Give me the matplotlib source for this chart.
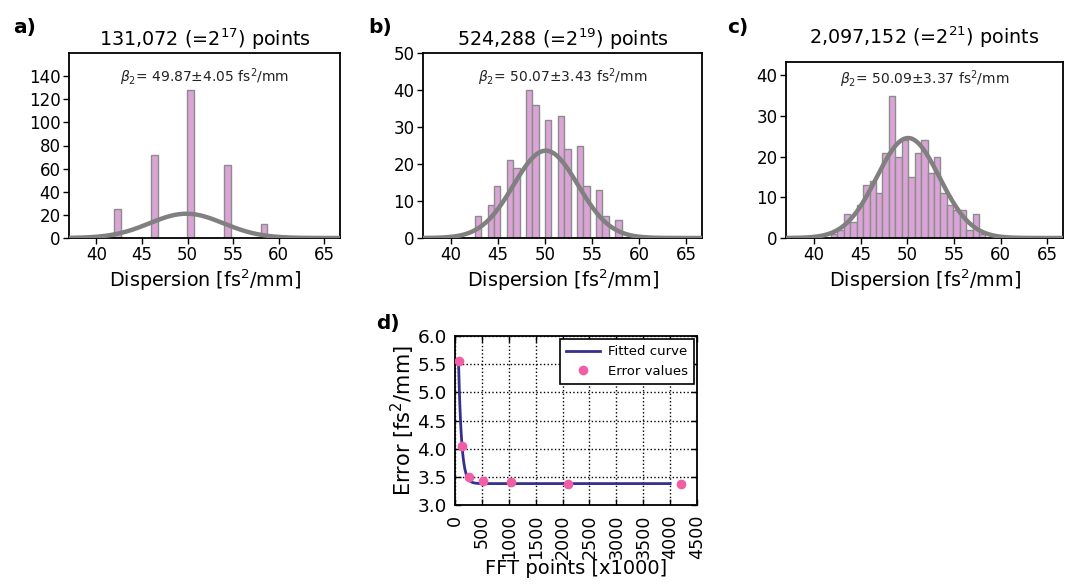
import numpy as np
import matplotlib
matplotlib.use("Agg")
import matplotlib.pyplot as plt

# ---------------- data ----------------
# panel a: 131,072 points
a_centers = [42.32, 46.35, 50.33, 54.39, 58.38]
a_counts = [25, 72, 128, 63, 12]
a_width = 0.74
a_mu, a_sigma, a_amp = 49.87, 4.05, 21.0

# panel b: 524,288 points
b_first_center = 42.86
b_bin_width = 0.679
b_counts = [6, 0, 9, 14, 0, 21, 19, 0, 40, 36, 0, 32, 0, 33, 24, 0, 25, 14, 0, 13, 6, 0, 5]
b_mu, b_sigma, b_amp = 50.07, 3.43, 23.6

# panel c: 2,097,152 points
c_first_center = 42.17
c_bin_width = 0.69
c_counts = [1, 2, 6, 4, 8, 13, 14, 11, 21, 35, 20, 24, 15, 21, 24, 16, 20, 11, 8, 7, 7, 2, 6, 1]
c_mu, c_sigma, c_amp = 50.09, 3.37, 24.6

# panel d: error vs FFT points
fft_points = [65.536, 131.072, 262.144, 524.288, 1048.576, 2097.152, 4194.304]
error_values = [5.55, 4.05, 3.50, 3.43, 3.40, 3.37, 3.38]
fit_A, fit_k, fit_C = 7.03, 0.01795, 3.38
fit_xmin, fit_xmax = 65.536, 4000

titles = ["131,072 (=2$^{17}$) points", "524,288 (=2$^{19}$) points",
          "2,097,152 (=2$^{21}$) points"]
notes = ["$\\beta_2$= 49.87$\\pm$4.05 fs$^2$/mm",
         "$\\beta_2$= 50.07$\\pm$3.43 fs$^2$/mm",
         "$\\beta_2$= 50.09$\\pm$3.37 fs$^2$/mm"]
panel_labels = ["a)", "b)", "c)", "d)"]

# ---------------- figure ----------------
W, H = 1072, 585
fig = plt.figure(figsize=(W / 100, H / 100), dpi=100)

def box(l, r, t, b):
    return [l / W, 1 - b / H, (r - l) / W, (b - t) / H]

bar_face = "#dba4d6"
bar_edge = "#8c8c8c"
gauss_col = "#808080"

hist_specs = [
    (box(69, 340, 53, 238), a_centers, a_counts, a_width, (a_mu, a_sigma, a_amp), (0, 160), [0, 20, 40, 60, 80, 100, 120, 140], 0.87, 5),
    (box(423, 702, 53, 238), [b_first_center + i * b_bin_width for i in range(len(b_counts))], b_counts, b_bin_width, (b_mu, b_sigma, b_amp), (0, 50), [0, 10, 20, 30, 40, 50], 0.87, 5),
    (box(786, 1063, 62, 238), [c_first_center + i * c_bin_width for i in range(len(c_counts))], c_counts, c_bin_width, (c_mu, c_sigma, c_amp), (0, 43.3), [0, 10, 20, 30, 40], 0.905, 13),
]

xg = np.linspace(37, 67, 400)
for i, (rect, centers, counts, width, (mu, sg, amp), ylim, yticks, ny, pad) in enumerate(hist_specs):
    ax = fig.add_axes(rect)
    ax.bar(centers, counts, width=width, color=bar_face, edgecolor=bar_edge, linewidth=1.0, zorder=2)
    ax.plot(xg, amp * np.exp(-0.5 * ((xg - mu) / sg) ** 2), color=gauss_col, lw=3.2, zorder=3)
    ax.set_xlim(37, 66.7)
    ax.set_ylim(*ylim)
    ax.set_xticks([40, 45, 50, 55, 60, 65])
    ax.set_yticks(yticks)
    ax.tick_params(direction="out", length=4, width=1, labelsize=12, top=False, right=False, pad=2)
    for s in ax.spines.values():
        s.set_linewidth(1.3)
    ax.set_title(titles[i], fontsize=13.8, pad=pad)
    ax.set_xlabel("Dispersion [fs$^2$/mm]", fontsize=13.8, labelpad=2)
    ax.text(0.5, ny, notes[i], transform=ax.transAxes, ha="center", va="center", fontsize=10, color="#222222")

fig.text(13 / W, 1 - 27 / H, panel_labels[0], fontsize=14.5, fontweight="bold", va="center")
fig.text(368 / W, 1 - 27 / H, panel_labels[1], fontsize=14.5, fontweight="bold", va="center")
fig.text(727 / W, 1 - 27 / H, panel_labels[2], fontsize=14.5, fontweight="bold", va="center")

# panel d
axd = fig.add_axes(box(455, 697, 336, 505))
xf = np.linspace(fit_xmin, fit_xmax, 600)
axd.plot(xf, fit_A * np.exp(-fit_k * xf) + fit_C, color="#352f8e", lw=2, label="Fitted curve", zorder=3)
axd.plot(fft_points, error_values, "o", color="#f25ea6", markersize=7, markeredgewidth=0, label="Error values", zorder=4)
axd.set_xlim(0, 4500)
axd.set_ylim(3.0, 6.0)
axd.set_xticks(np.arange(0, 4501, 500))
axd.set_yticks(np.arange(3.0, 6.01, 0.5))
axd.set_yticklabels(["%.1f" % v for v in np.arange(3.0, 6.01, 0.5)])
axd.tick_params(direction="in", length=4, width=1, labelsize=13.3, top=True, right=True)
axd.tick_params(axis="y", pad=6)
axd.tick_params(axis="x", labelrotation=90, pad=7, labelsize=12.6)
axd.grid(True, color="black", linestyle=":", linewidth=1)
for s in axd.spines.values():
    s.set_linewidth(1.3)
axd.set_xlabel("FFT points [x1000]", fontsize=14, labelpad=0)
axd.set_ylabel("Error [fs$^2$/mm]", fontsize=15, labelpad=0)
leg = axd.legend(loc="upper right", fontsize=9.5, numpoints=1, fancybox=False, framealpha=1,
                 borderpad=0.45, handlelength=2.6, labelspacing=0.5, borderaxespad=0.25, handletextpad=0.6)
leg.get_frame().set_edgecolor("black")
leg.get_frame().set_linewidth(1.2)
fig.text(376 / W, 1 - 323 / H, panel_labels[3], fontsize=14.5, fontweight="bold", va="center")

fig.savefig("out.png", dpi=100)
